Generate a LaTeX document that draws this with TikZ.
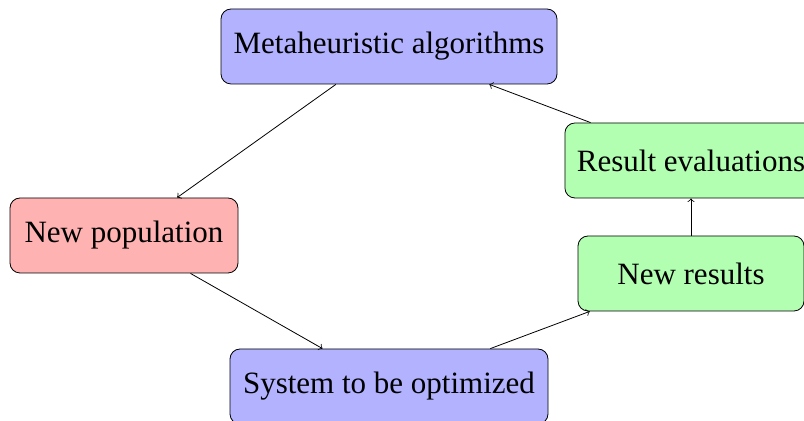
\documentclass[tikz,border=0pt]{standalone}
\usepackage{fontspec}
\setmainfont{Liberation Serif}
\begin{document}
\begin{tikzpicture}[x=0.5pt,y=-0.5pt,
  box/.style={draw, rounded corners=5pt, minimum height=37.5pt, inner xsep=6pt,
              font=\fontsize{15.5}{18}\selectfont},
  bluebox/.style={box, fill=blue!30},
  redbox/.style={box, fill=red!30},
  greenbox/.style={box, fill=green!30},
  flow/.style={->, line width=0.4pt}]
\useasboundingbox (0,0) rectangle (804,421);
\node[bluebox,  minimum width=168pt] (meta) at (389,46.5)  {Metaheuristic algorithms};
\node[redbox,   minimum width=114pt] (pop)  at (124,235.5) {New population};
\node[bluebox,  minimum width=159pt] (sys)  at (389,386.5) {System to be optimized};
\node[greenbox, minimum width=113pt] (res)  at (691,273.5) {New results};
\node[greenbox, minimum width=125pt] (eval) at (691,160.5) {Result evaluations};
\draw[flow] (meta) -- (pop);
\draw[flow] (pop) -- (sys);
\draw[flow] (sys) -- (res);
\draw[flow] (res) -- (eval);
\draw[flow] (eval) -- (meta);
\end{tikzpicture}
\end{document}
